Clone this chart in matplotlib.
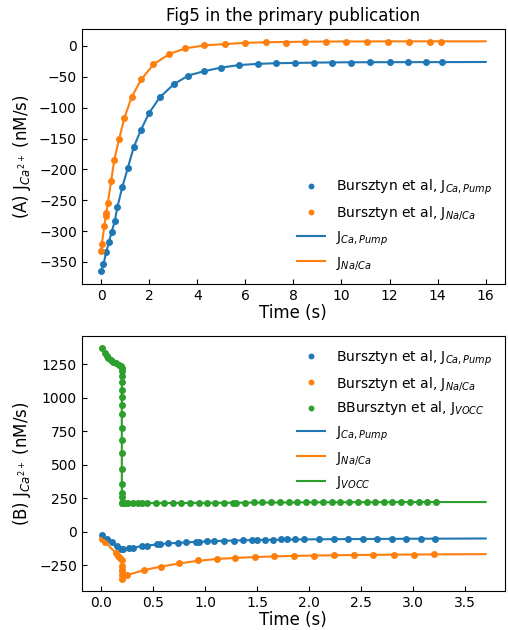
import matplotlib
matplotlib.use("Agg")
import matplotlib.pyplot as plt

# ---------------- Panel A data ----------------
a_pump_t = [-0.01, 0.1, 0.22, 0.33, 0.44, 0.57, 0.68, 0.89, 1.12, 1.36, 1.66, 2.01, 2.45,
            3.03, 3.63, 4.28, 5.0, 5.75, 6.51, 7.27, 8.06, 8.84, 9.6, 10.4, 11.2, 12.0,
            12.77, 13.5, 14.2]
a_pump_v = [-365, -354, -334, -317, -302, -284, -261, -228, -197, -164, -136, -108, -83,
            -62, -48, -41, -35, -31, -29, -28, -28, -27, -27, -27, -26.5, -26.5,
            -26.5, -26.5, -26.5]
a_naca_t = [-0.01, 0.03, 0.14, 0.19, 0.22, 0.28, 0.42, 0.55, 0.75, 0.97, 1.27, 1.68, 2.18,
            2.84, 3.5, 4.3, 5.15, 5.97, 6.86, 7.68, 8.5, 9.35, 10.2, 11.08, 11.95, 12.8,
            13.7, 14.15]
a_naca_v = [-333, -321, -292, -276, -271, -255, -219, -185, -151, -117, -83, -54, -30,
            -13, -4, 1, 3, 5, 6, 5.5, 7, 7, 7, 7, 7, 7, 7, 7]

a_model_pump_t = [0.0, 0.1, 0.22, 0.33, 0.44, 0.57, 0.68, 0.89, 1.12, 1.36, 1.66, 2.01, 2.45,
                  3.03, 3.63, 4.28, 5.0, 5.75, 6.51, 7.27, 8.06, 9.0, 10.0, 12.0, 14.0, 16.0]
a_model_pump_v = [-366, -354, -334, -317, -302, -284, -261, -228, -197, -164, -136, -108, -83,
                  -62, -48, -41, -35, -31, -29, -28, -27.5, -27, -26.5, -26.3, -26.2, -26]
a_model_naca_t = [0.0, 0.03, 0.14, 0.19, 0.22, 0.28, 0.42, 0.55, 0.75, 0.97, 1.27, 1.68, 2.18,
                  2.84, 3.5, 4.3, 5.15, 5.97, 6.86, 7.68, 9.0, 10.0, 12.0, 14.0, 16.0]
a_model_naca_v = [-333, -321, -292, -276, -271, -255, -219, -185, -151, -117, -83, -54, -30,
                  -13, -4, 1, 3, 5, 6, 6.5, 7, 7.2, 7.4, 7.5, 7.5]

# ---------------- Panel B data ----------------
b_pump_t = [0.013, 0.061, 0.103, 0.151, 0.195, 0.208, 0.269, 0.307, 0.397, 0.445, 0.534,
            0.563, 0.646, 0.736, 0.822, 0.909, 0.944, 1.02, 1.085, 1.18, 1.277, 1.363,
            1.45, 1.5, 1.58, 1.655, 1.735, 1.789, 1.869, 1.956, 2.1, 2.237, 2.375, 2.515,
            2.653, 2.796, 2.934, 3.074, 3.212]
b_pump_v = [-25, -57, -79, -107, -129, -132, -122, -119, -109, -109, -94,
            -92, -87, -82, -79, -74, -74, -69, -69, -67, -67, -62,
            -62, -60, -60, -58, -57, -57, -56, -55, -55, -54, -54, -53,
            -53, -52, -52, -52, -52]
b_naca_t = [0.006, 0.035, 0.147, 0.166, 0.185, 0.2, 0.2, 0.2, 0.2, 0.2, 0.2, 0.254, 0.413,
            0.577, 0.746, 0.932, 1.111, 1.293, 1.479, 1.665, 1.859, 2.045, 2.237, 2.43,
            2.62, 2.82, 3.01, 3.2]
b_naca_v = [-57, -77, -161, -184, -199, -211, -256, -293, -323, -351, -286, -326, -288,
            -266, -236, -214, -201, -194, -187, -181, -183, -178, -176, -174,
            -173, -172, -170, -169]
b_vocc_t = [0.013, 0.036, 0.055, 0.07, 0.093, 0.119, 0.148, 0.173, 0.195, 0.2, 0.2, 0.2,
            0.2, 0.2, 0.2, 0.2, 0.2, 0.2, 0.2, 0.2, 0.2, 0.2, 0.2, 0.2, 0.2, 0.205, 0.227,
            0.263, 0.311, 0.352, 0.397, 0.445, 0.525, 0.605, 0.688, 0.768, 0.851, 0.938,
            1.021, 1.1, 1.187, 1.267, 1.296, 1.382, 1.468, 1.552, 1.635, 1.718, 1.805,
            1.885, 1.968, 2.051, 2.134, 2.22, 2.3, 2.387, 2.467, 2.556, 2.636, 2.723,
            2.802, 2.886, 2.973, 3.056, 3.139, 3.222]
b_vocc_v = [1370, 1337, 1312, 1295, 1282, 1270, 1258, 1247, 1237, 1225, 1198, 1165,
            1120, 1056, 1004, 946, 879, 774, 685, 588, 470, 354, 289, 261, 214, 212, 213,
            214, 215, 215, 215, 215, 216, 216, 216, 216, 216, 217,
            217, 217, 217, 218, 218, 218, 219, 219, 220, 221, 221,
            221, 221, 222, 222, 222, 222, 223, 223, 223, 223, 223,
            224, 224, 224, 224, 224, 224]

b_model_pump_t = [0.0, 0.05, 0.1, 0.15, 0.2, 0.25, 0.3, 0.4, 0.5, 0.6, 0.75, 0.9, 1.1,
                  1.3, 1.5, 1.8, 2.1, 2.5, 3.0, 3.4, 3.7]
b_model_pump_v = [-28, -55, -80, -107, -132, -124, -117, -108, -98, -90, -82, -76, -69,
                  -65, -61, -58, -56, -54, -52, -51, -50]
b_model_naca_t = [0.0, 0.05, 0.1, 0.15, 0.2, 0.2, 0.25, 0.3, 0.4, 0.5, 0.6, 0.75, 0.9,
                  1.1, 1.3, 1.5, 1.8, 2.1, 2.5, 3.0, 3.4, 3.7]
b_model_naca_v = [-55, -85, -125, -165, -205, -340, -324, -312, -290, -272, -257, -237,
                  -220, -204, -195, -188, -181, -177, -173, -170, -168, -167]
b_model_vocc_t = [0.0, 0.03, 0.06, 0.1, 0.15, 0.2, 0.2, 0.3, 0.6, 1.0, 1.5, 2.0, 2.5,
                  3.0, 3.7]
b_model_vocc_v = [1375, 1340, 1310, 1280, 1255, 1232, 212, 214, 215, 216, 218, 220, 221,
                  222, 222]

blue, orange, green = "#1f77b4", "#ff7f0e", "#2ca02c"

fig = plt.figure(figsize=(5.08, 6.30), dpi=100)
ax1 = fig.add_axes([0.161, 0.549, 0.833, 0.405])
ax2 = fig.add_axes([0.161, 0.0624, 0.833, 0.4046])

ms = 4
ax1.plot(a_pump_t, a_pump_v, "o", color=blue, ms=ms, label=r"Bursztyn et al, J$_{Ca,Pump}$")
ax1.plot(a_naca_t, a_naca_v, "o", color=orange, ms=ms, label=r"Bursztyn et al, J$_{Na/Ca}$")
ax1.plot(a_model_pump_t, a_model_pump_v, "-", color=blue, lw=1.5, label=r"J$_{Ca,Pump}$")
ax1.plot(a_model_naca_t, a_model_naca_v, "-", color=orange, lw=1.5, label=r"J$_{Na/Ca}$")
ax1.set_xlim(-0.8, 16.8)
ax1.set_ylim(-386, 27.5)
ax1.set_xticks([0, 2, 4, 6, 8, 10, 12, 14, 16])
ax1.set_yticks([0, -50, -100, -150, -200, -250, -300, -350])
ax1.set_xlabel("Time (s)", fontsize=12, labelpad=1)
ax1.set_ylabel(r"(A) J$_{Ca^{2+}}$ (nM/s)", fontsize=12)
ax1.set_title("Fig5 in the primary publication", fontsize=12)
ax1.legend(loc="lower right", frameon=False, fontsize=10, labelspacing=0.5,
           markerscale=0.8)

ax2.plot(b_pump_t, b_pump_v, "o", color=blue, ms=ms, label=r"Bursztyn et al, J$_{Ca,Pump}$")
ax2.plot(b_naca_t, b_naca_v, "o", color=orange, ms=ms, label=r"Bursztyn et al, J$_{Na/Ca}$")
ax2.plot(b_vocc_t, b_vocc_v, "o", color=green, ms=ms, label=r"BBursztyn et al, J$_{VOCC}$")
ax2.plot(b_model_pump_t, b_model_pump_v, "-", color=blue, lw=1.5, label=r"J$_{Ca,Pump}$")
ax2.plot(b_model_naca_t, b_model_naca_v, "-", color=orange, lw=1.5, label=r"J$_{Na/Ca}$")
ax2.plot(b_model_vocc_t, b_model_vocc_v, "-", color=green, lw=1.5, label=r"J$_{VOCC}$")
ax2.set_xlim(-0.185, 3.885)
ax2.set_ylim(-440, 1464)
ax2.set_xticks([0.0, 0.5, 1.0, 1.5, 2.0, 2.5, 3.0, 3.5])
ax2.set_yticks([-250, 0, 250, 500, 750, 1000, 1250])
ax2.set_xlabel("Time (s)", fontsize=12, labelpad=1)
ax2.set_ylabel(r"(B) J$_{Ca^{2+}}$ (nM/s)", fontsize=12)
ax2.legend(loc="upper right", frameon=False, fontsize=10, labelspacing=0.5,
           markerscale=0.8)

for ax in (ax1, ax2):
    ax.tick_params(direction="in", labelsize=10)

fig.savefig("out.png", dpi=100)
